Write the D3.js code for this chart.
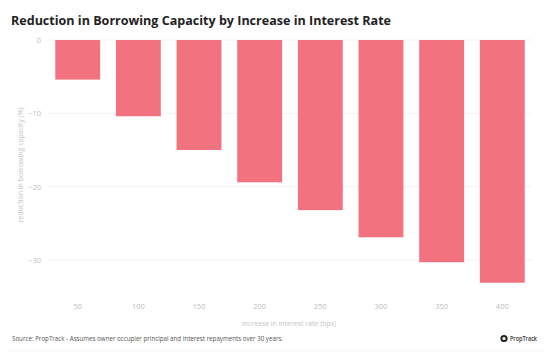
<!DOCTYPE html>
<html><head><meta charset="utf-8">
<script src="https://cdn.jsdelivr.net/npm/d3@7"></script>
<style>body{margin:0;background:#fff}svg{display:block}text{font-family:"Open Sans",sans-serif}</style>
</head><body>
<svg id="c" width="553" height="359"></svg>
<script>
const categories = ["50","100","150","200","250","300","350","400"];
const values = [-5.4,-10.4,-15.0,-19.4,-23.2,-26.9,-30.3,-33.1];
const yTicks = [0,-10,-20,-30];
const title = "Reduction in Borrowing Capacity by Increase in Interest Rate";
const yTitle = "reduction in borrowing capacity (%)";
const xTitle = "increase in interest rate (bps)";
const source = "Source: PropTrack - Assumes owner occupier principal and interest repayments over 30 years.";

const svg = d3.select("#c");
const x = d3.scaleBand().domain(categories).range([48,532]).paddingInner(0.26).paddingOuter(0.12);
const y = d3.scaleLinear().domain([0,-30]).range([40,260]);

svg.append("text").attr("x",11).attr("y",25).attr("font-size",12).attr("font-weight",700)
  .attr("fill","#222").attr("textLength",380).attr("lengthAdjust","spacingAndGlyphs").text(title);

svg.append("g").selectAll("line").data(yTicks).join("line")
  .attr("x1",48).attr("x2",532).attr("y1",d=>y(d)).attr("y2",d=>y(d))
  .attr("stroke","#eeeeee").attr("stroke-width",0.8);

const yAxis = svg.append("g").attr("transform","translate(41,0)")
  .call(d3.axisLeft(y).tickValues(yTicks).tickSize(0).tickPadding(0));
yAxis.select(".domain").remove();
yAxis.selectAll("text").attr("font-size",7.5).attr("fill","#bdbdbd").attr("font-family","Open Sans");

svg.append("g").selectAll("rect").data(values).join("rect")
  .attr("x",(d,i)=>x(categories[i])).attr("width",x.bandwidth())
  .attr("y",d=>y(Math.max(0,d))).attr("height",d=>Math.abs(y(d)-y(0)))
  .attr("fill","#f2737f");

const xAxis = svg.append("g").attr("transform","translate(0,304)")
  .call(d3.axisBottom(x).tickSize(0).tickPadding(0));
xAxis.select(".domain").remove();
xAxis.selectAll("text").attr("font-size",7.5).attr("fill","#bdbdbd").attr("font-family","Open Sans");

svg.append("text").attr("transform","translate(23,165) rotate(-90)").attr("text-anchor","middle")
  .attr("font-size",6.8).attr("fill","#c4c4c4").attr("textLength",115).attr("lengthAdjust","spacingAndGlyphs").text(yTitle);
svg.append("text").attr("x",289).attr("y",326).attr("text-anchor","middle")
  .attr("font-size",6.8).attr("fill","#c4c4c4").attr("textLength",94).attr("lengthAdjust","spacingAndGlyphs").text(xTitle);

svg.append("text").attr("x",12).attr("y",341).attr("font-size",6.5).attr("fill","#555")
  .attr("textLength",271).attr("lengthAdjust","spacingAndGlyphs").text(source);

svg.append("circle").attr("cx",504).attr("cy",338.5).attr("r",3.6).attr("fill","#222");
svg.append("circle").attr("cx",504).attr("cy",338.5).attr("r",1.6).attr("fill","#fff");
svg.append("text").attr("x",510).attr("y",341).attr("font-size",6.3).attr("font-weight",600)
  .attr("fill","#333").attr("textLength",27).attr("lengthAdjust","spacingAndGlyphs").text("PropTrack");
svg.append("line").attr("x1",8).attr("x2",545).attr("y1",351).attr("y2",351).attr("stroke","#f3f3f3").attr("stroke-width",0.8);
</script>
</body></html>
